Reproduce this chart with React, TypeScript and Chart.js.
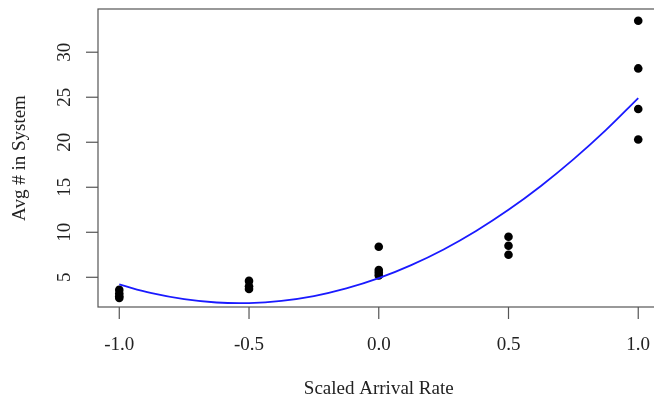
import React, { useEffect, useRef } from "react";
import { Chart, registerables } from "chart.js";

Chart.register(...registerables);

// Observed points (scaled arrival rate vs avg # in system)
const ptsXm100 = [3.6, 3.2, 2.9, 2.7];
const ptsXm050 = [4.6, 4.0, 3.7];
const ptsX000 = [8.4, 5.8, 5.5, 5.2];
const ptsX050 = [9.5, 8.5, 7.5];
const ptsX100 = [33.5, 28.2, 23.7, 20.3];
const ptLevels = [-1, -0.5, 0, 0.5, 1];
const ptGroups = [ptsXm100, ptsXm050, ptsX000, ptsX050, ptsX100];

// Fitted curve
const fitX = [-1, -0.875, -0.75, -0.625, -0.5, -0.375, -0.25, -0.125, 0, 0.125, 0.25, 0.375, 0.5, 0.625, 0.75, 0.875, 1];
const fitY = [4.2, 3.23, 2.57, 2.2, 2.14, 2.38, 2.91, 3.76, 4.9, 6.35, 8.09, 10.14, 12.49, 15.14, 18.09, 21.34, 24.9];

const xTicks = [-1, -0.5, 0, 0.5, 1];
const xTickLabels = ["-1.0", "-0.5", "0.0", "0.5", "1.0"];
const yTicks = [5, 10, 15, 20, 25, 30];
const yTickLabels = ["5", "10", "15", "20", "25", "30"];
const xTitle = "Scaled Arrival Rate";
const yTitle = "Avg # in System";

const FONT = "19px 'Liberation Serif', 'Times New Roman', serif";

const rAxesPlugin = {
  id: "rAxes",
  afterDraw(chart: any) {
    const { ctx, chartArea, scales } = chart;
    const { left, top, right, bottom } = chartArea;
    ctx.save();
    ctx.strokeStyle = "#555";
    ctx.lineWidth = 1.2;
    ctx.strokeRect(left, top, right - left, bottom - top);
    const tl = 12;
    ctx.fillStyle = "#222";
    ctx.font = FONT;
    // x ticks
    ctx.textAlign = "center";
    ctx.textBaseline = "middle";
    xTicks.forEach((v, i) => {
      const px = scales.x.getPixelForValue(v);
      ctx.beginPath();
      ctx.moveTo(px, bottom);
      ctx.lineTo(px, bottom + tl);
      ctx.stroke();
      ctx.fillText(xTickLabels[i], px, 345);
    });
    // y ticks
    yTicks.forEach((v, i) => {
      const py = scales.y.getPixelForValue(v);
      ctx.beginPath();
      ctx.moveTo(left, py);
      ctx.lineTo(left - tl, py);
      ctx.stroke();
      ctx.save();
      ctx.translate(65, py);
      ctx.rotate(-Math.PI / 2);
      ctx.fillText(yTickLabels[i], 0, 0);
      ctx.restore();
    });
    // titles
    ctx.fillText(xTitle, (scales.x.getPixelForValue(0)), 389);
    ctx.save();
    ctx.translate(20, (top + bottom) / 2);
    ctx.rotate(-Math.PI / 2);
    ctx.fillText(yTitle, 0, 0);
    ctx.restore();
    ctx.restore();
  },
};

export default function App() {
  const ref = useRef<HTMLCanvasElement>(null);
  useEffect(() => {
    document.documentElement.style.overflow = "hidden";
    document.body.style.overflow = "hidden";
    document.body.style.margin = "0";
    const points: { x: number; y: number }[] = [];
    ptGroups.forEach((g, i) => g.forEach((y) => points.push({ x: ptLevels[i], y })));
    const fit = fitX.map((x, i) => ({ x, y: fitY[i] }));
    const chart = new Chart(ref.current!, {
      type: "scatter",
      data: {
        datasets: [
          {
            type: "line",
            data: fit,
            borderColor: "#1a1aff",
            borderWidth: 1.8,
            pointRadius: 0,
            tension: 0.4,
            fill: false,
          } as any,
          {
            type: "scatter",
            data: points,
            backgroundColor: "#000",
            borderColor: "#000",
            pointRadius: 4.3,
            borderWidth: 0,
          },
        ],
      },
      options: {
        animation: false,
        responsive: false,
        devicePixelRatio: 1,
        layout: { padding: { left: 98, top: 9, right: 5, bottom: 94 } },
        plugins: { legend: { display: false }, tooltip: { enabled: false } },
        scales: {
          x: { type: "linear", min: -1.082, max: 1.08, display: false },
          y: { type: "linear", min: 1.7, max: 34.8, display: false },
        },
      },
      plugins: [rAxesPlugin],
    });
    return () => chart.destroy();
  }, []);
  return (
    <div style={{ position: "fixed", left: 0, top: 0, width: 664, height: 401, background: "#fff" }}>
      <canvas ref={ref} width={664} height={401} style={{ display: "block", width: 664, height: 401 }} />
    </div>
  );
}
